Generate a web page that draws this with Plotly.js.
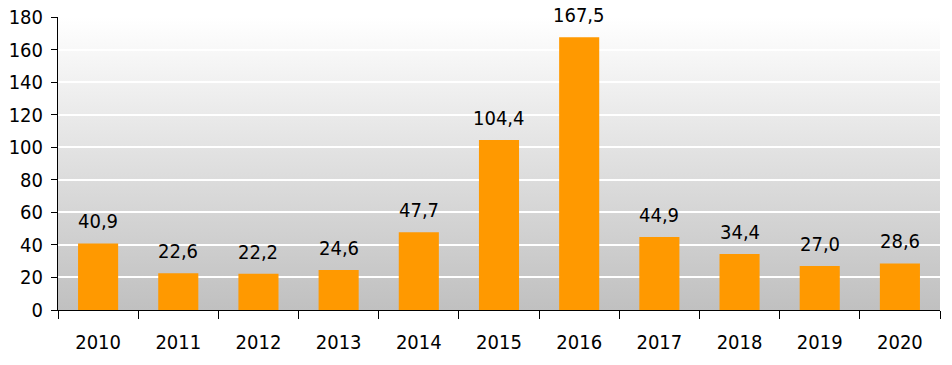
<!DOCTYPE html>
<html>
<head>
<meta charset="utf-8">
<script src="https://cdn.plot.ly/plotly-3.0.1.min.js"></script>
<style>html,body{margin:0;padding:0;background:#fff;}#chart{width:952px;height:365px;}</style>
</head>
<body>
<div id="chart"></div>
<script>
const years = ['2010','2011','2012','2013','2014','2015','2016','2017','2018','2019','2020'];
const values = [40.9, 22.6, 22.2, 24.6, 47.7, 104.4, 167.5, 44.9, 34.4, 27.0, 28.6];
const labels = values.map(v => v.toFixed(1).replace('.', ','));

const FONT = '"DejaVu Sans Condensed", "DejaVu Sans", sans-serif';
const FS = 20;

const grad = 'data:image/svg+xml;utf8,' + encodeURIComponent(
  '<svg xmlns="http://www.w3.org/2000/svg" width="100" height="100" preserveAspectRatio="none">' +
  '<defs><linearGradient id="g" x1="0" y1="0" x2="0" y2="1">' +
  '<stop offset="0" stop-color="#ffffff"/><stop offset="1" stop-color="#c0c0c0"/>' +
  '</linearGradient></defs><rect width="100" height="100" fill="url(#g)"/></svg>');

const trace = {
  type: 'bar',
  x: years,
  y: values,
  marker: {color: '#ff9900', line: {width: 0}},
  hoverinfo: 'none'
};

// category axis: annotation x uses the category index
const annotations = years.map((yr, i) => ({
  x: i, y: values[i], xref: 'x', yref: 'y',
  text: labels[i], showarrow: false,
  yanchor: 'bottom', xanchor: 'center', yshift: 8,
  font: {family: FONT, size: FS, color: '#000'}
}));

const layout = {
  width: 952, height: 365,
  margin: {l: 58, r: 12, t: 17, b: 55},
  paper_bgcolor: '#ffffff',
  plot_bgcolor: 'rgba(0,0,0,0)',
  bargap: 0.5,
  showlegend: false,
  font: {family: FONT, size: FS, color: '#000'},
  annotations: annotations,
  images: [{source: grad, xref: 'paper', yref: 'paper', x: 0, y: 1, sizex: 1, sizey: 1,
            sizing: 'stretch', layer: 'below', xanchor: 'left', yanchor: 'top'}],
  xaxis: {
    type: 'category',
    categoryorder: 'array', categoryarray: years,
    showgrid: false,
    showline: true, linecolor: '#000', linewidth: 1,
    ticks: 'outside', ticklen: 8, tickcolor: '#000', tickwidth: 1,
    tickson: 'boundaries',
    ticklabelstandoff: 14,
    tickangle: 0,
    tickfont: {family: FONT, size: FS, color: '#000'},
    zeroline: false,
    fixedrange: true
  },
  yaxis: {
    range: [0, 180],
    dtick: 20,
    showgrid: true, gridcolor: '#ffffff', gridwidth: 2,
    showline: true, linecolor: '#000', linewidth: 1,
    ticks: 'outside', ticklen: 6, tickcolor: '#000',
    ticklabelstandoff: 4,
    tickfont: {family: FONT, size: FS, color: '#000'},
    zeroline: false,
    fixedrange: true
  }
};

Plotly.newPlot('chart', [trace], layout, {staticPlot: true, displayModeBar: false});
</script>
</body>
</html>
